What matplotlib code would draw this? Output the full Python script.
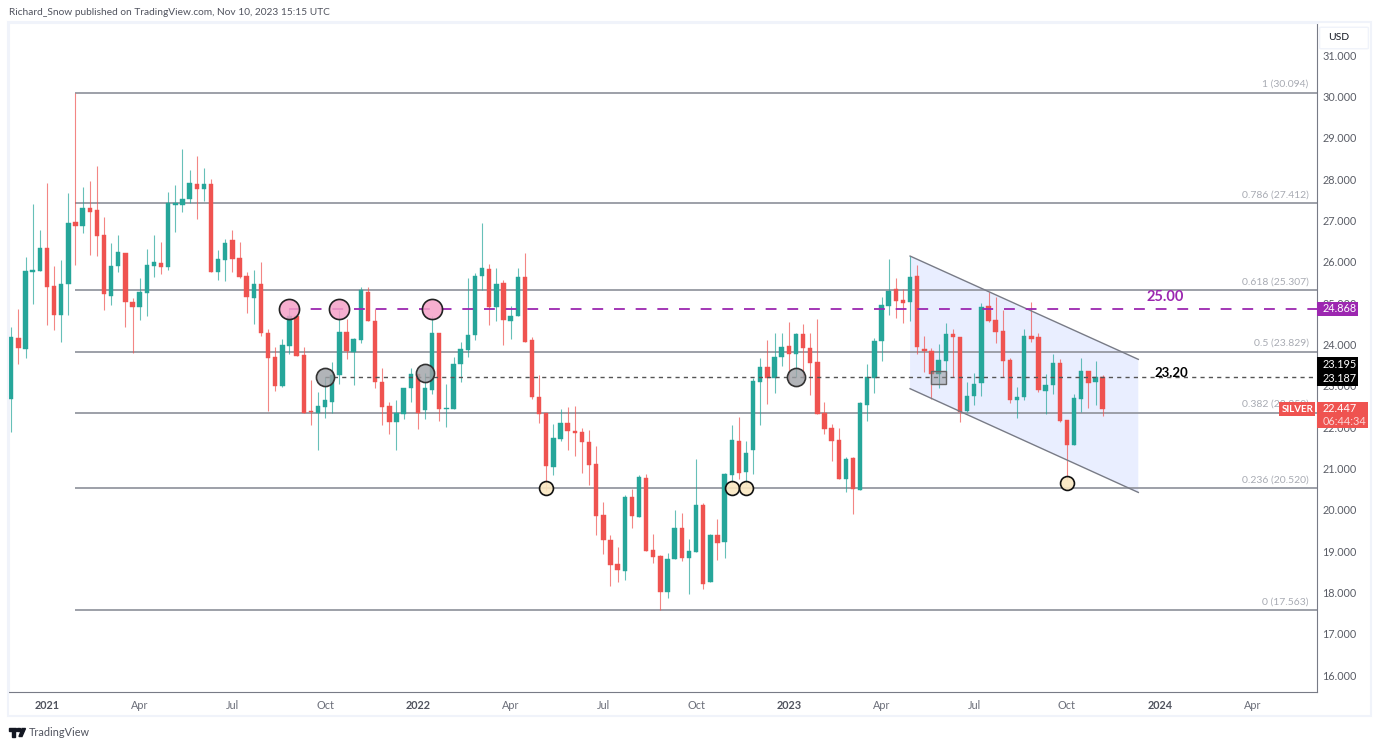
import numpy as np
import matplotlib.pyplot as plt
from matplotlib.patches import Rectangle, FancyBboxPatch, Polygon

plt.rcParams['font.family'] = ['Lato', 'DejaVu Sans']

# weekly candles, bar 5 = first week of Jan 2021
opens = [22.67, 24.16, 23.90, 25.76, 25.79, 26.34, 25.42, 24.71, 25.46, 26.96, 26.87, 27.30, 27.25,
         26.64, 25.18, 25.89, 26.22, 25.04, 24.91, 25.25, 25.91, 25.97, 25.88, 27.38, 27.37, 27.51,
         27.88, 27.76, 27.88, 25.76, 26.05, 26.53, 26.09, 25.66, 25.12, 25.46, 24.29, 23.70, 23.00,
         23.97, 24.69, 23.75, 22.38, 22.35, 22.48, 22.61, 23.26, 24.30, 23.83, 24.12, 25.27, 24.57,
         23.10, 22.51, 22.12, 22.31, 22.94, 23.28, 22.41, 22.91, 24.27, 22.44, 22.45, 23.52, 23.86,
         24.24, 25.65, 25.82, 24.90, 25.48, 24.57, 24.69, 25.63, 24.10, 22.74, 22.34, 21.04, 21.71,
         22.10, 21.91, 21.87, 21.64, 21.10, 19.87, 19.28, 18.69, 18.52, 20.31, 19.83, 20.77, 19.02,
         18.88, 18.01, 18.80, 19.57, 18.83, 18.97, 20.12, 18.24, 19.39, 19.22, 20.83, 21.66, 20.91,
         21.45, 23.08, 23.46, 23.20, 23.70, 23.96, 23.77, 24.25, 23.92, 23.58, 22.34, 21.98, 21.69,
         20.74, 21.25, 20.49, 22.54, 23.20, 24.09, 24.94, 25.34, 25.07, 25.02, 25.66, 23.89, 23.84,
         23.29, 23.60, 24.26, 24.18, 22.38, 22.76, 23.06, 24.93, 24.59, 24.33, 23.63, 22.66, 22.73,
         24.20, 24.18, 22.88, 23.01, 23.55, 22.17, 21.57, 22.69, 23.37, 23.08, 23.21]
highs = [24.42, 24.87, 26.12, 27.40, 26.77, 27.92, 25.89, 26.04, 27.66, 30.09, 27.80, 27.95, 28.32,
         27.08, 26.45, 26.64, 26.22, 25.12, 25.62, 26.30, 26.64, 26.47, 27.68, 27.86, 28.74, 28.22,
         28.55, 28.28, 28.00, 26.29, 26.55, 26.77, 26.47, 25.76, 25.80, 26.00, 24.37, 23.95, 24.13,
         24.88, 24.69, 23.95, 23.14, 22.85, 23.22, 23.58, 24.84, 24.61, 24.15, 25.38, 25.38, 24.85,
         23.42, 22.60, 22.65, 22.95, 23.42, 23.28, 23.30, 24.69, 24.27, 23.04, 23.69, 24.07, 25.60,
         25.73, 26.94, 25.94, 25.84, 25.57, 24.92, 25.86, 26.22, 24.17, 23.26, 22.34, 22.07, 22.43,
         22.48, 22.52, 21.99, 21.93, 21.54, 20.19, 19.39, 19.09, 20.35, 20.51, 20.83, 20.86, 19.41,
         18.90, 18.95, 20.00, 19.92, 19.29, 21.23, 20.16, 19.41, 19.78, 20.88, 22.05, 22.24, 21.66,
         23.18, 23.68, 24.12, 24.28, 24.28, 24.54, 24.28, 24.50, 24.28, 24.62, 22.61, 22.07, 21.97,
         21.28, 21.28, 22.61, 23.52, 24.15, 25.14, 26.07, 25.60, 25.34, 26.14, 25.92, 24.21, 23.91,
         24.01, 24.51, 24.38, 24.18, 23.09, 23.30, 25.01, 25.28, 25.14, 24.84, 23.68, 22.98, 24.38,
         25.03, 24.29, 23.29, 23.76, 23.64, 22.18, 22.81, 23.68, 23.37, 23.60, 23.25]
lows = [21.89, 23.52, 23.67, 24.98, 25.79, 24.47, 24.35, 24.07, 24.71, 25.92, 26.71, 26.16, 26.14,
        24.84, 24.96, 25.76, 24.42, 23.79, 24.59, 24.69, 25.64, 25.71, 25.80, 26.72, 27.21, 27.42,
        27.04, 27.48, 25.76, 25.56, 25.54, 25.76, 25.60, 24.77, 24.50, 24.21, 22.39, 22.88, 22.98,
        23.77, 23.73, 22.35, 22.05, 21.45, 22.23, 22.35, 23.05, 23.65, 23.02, 24.04, 24.56, 22.94,
        22.04, 21.84, 21.44, 22.19, 22.60, 21.96, 22.20, 22.81, 22.16, 22.00, 22.45, 23.08, 23.70,
        24.10, 25.31, 24.47, 24.57, 23.98, 24.14, 24.69, 24.06, 22.69, 22.10, 20.45, 20.85, 21.67,
        21.44, 21.29, 20.89, 20.60, 19.40, 18.92, 18.15, 18.25, 18.31, 19.56, 19.83, 19.01, 18.72,
        17.57, 17.87, 18.80, 18.77, 17.96, 18.97, 18.09, 18.24, 18.79, 18.84, 20.64, 20.74, 20.60,
        20.87, 22.04, 22.57, 22.82, 23.49, 23.12, 23.21, 23.18, 22.77, 22.31, 21.84, 21.19, 20.74,
        20.44, 19.90, 20.49, 22.16, 22.82, 23.59, 24.72, 24.65, 24.51, 24.57, 23.76, 23.34, 22.69,
        22.94, 23.22, 23.22, 22.13, 22.37, 22.54, 22.76, 24.54, 24.04, 23.22, 22.59, 22.23, 22.66,
        24.07, 22.86, 22.31, 22.81, 22.13, 20.71, 21.57, 22.37, 22.47, 22.54, 22.28]
closes = [24.18, 23.92, 25.78, 25.80, 26.33, 25.40, 24.71, 25.47, 26.93, 26.87, 27.30, 27.21, 26.63,
          25.23, 25.91, 26.24, 25.02, 24.91, 25.27, 25.92, 26.00, 25.88, 27.42, 27.42, 27.53, 27.91,
          27.76, 27.88, 25.76, 26.07, 26.45, 26.07, 25.63, 25.14, 25.46, 24.29, 23.68, 23.00, 23.99,
          24.69, 23.73, 22.35, 22.37, 22.50, 22.66, 23.26, 24.30, 23.85, 24.14, 25.31, 24.57, 23.08,
          22.49, 22.12, 22.34, 22.95, 23.28, 22.34, 22.94, 24.27, 22.44, 22.47, 23.53, 23.89, 24.24,
          25.65, 25.85, 24.90, 25.47, 24.59, 24.70, 25.63, 24.07, 22.73, 22.31, 21.06, 21.73, 22.10,
          21.90, 21.86, 21.64, 21.08, 19.85, 19.27, 18.67, 18.54, 20.31, 19.85, 20.79, 19.01, 18.85,
          18.01, 18.81, 19.56, 18.83, 19.00, 20.11, 18.21, 19.40, 19.20, 20.86, 21.69, 20.90, 21.37,
          23.12, 23.46, 23.20, 23.70, 23.93, 23.77, 24.25, 23.92, 23.56, 22.31, 21.96, 21.66, 20.74,
          21.23, 20.51, 22.58, 23.22, 24.09, 24.95, 25.30, 25.06, 25.01, 25.63, 23.94, 23.84, 23.29,
          23.62, 24.26, 24.17, 22.37, 22.76, 23.05, 24.91, 24.56, 24.31, 23.61, 22.66, 22.73, 24.21,
          24.13, 22.90, 23.02, 23.55, 22.15, 21.57, 22.71, 23.35, 23.06, 23.21, 22.447]

# fibonacci levels
fib_ratios = ['1', '0.786', '0.618', '0.5', '0.382', '0.236', '0']
fib_prices = [30.094, 27.412, 25.307, 23.829, 22.350, 20.520, 17.563]
fib_start = 9

y_ticks = list(range(16, 32))
x_ticks = [5, 18, 31, 44, 57, 70, 83, 96, 109, 122, 135, 148, 161, 174]
x_labels = ['2021', 'Apr', 'Jul', 'Oct', '2022', 'Apr', 'Jul', 'Oct', '2023', 'Apr', 'Jul', 'Oct', '2024', 'Apr']

# channel corners (bar, price)
channel_x = [126, 158, 158, 126]
channel_y = [26.14, 23.64, 20.42, 22.93]

# circled points
pink_x, pink_y = [39, 46, 59], [24.87, 24.87, 24.87]
grey_x, grey_y = [44, 58, 110], [23.21, 23.30, 23.21]
cream_x, cream_y = [75, 101, 103, 148], [20.52, 20.52, 20.52, 20.65]

GREEN = '#26a69a'
RED = '#ef5350'
PURPLE = '#9c27b0'
GREY = '#9598a1'
W, H = 1380, 747


def fx(x):
    return x / W


def fy(y):
    return 1 - y / H


fig = plt.figure(figsize=(W / 100, H / 100), dpi=100, facecolor='white')
ax = fig.add_axes([fx(9), fy(692), (1317 - 9) / W, (692 - 23) / H])
ax.set_xlim(-0.32, 183.05)
ax.set_ylim(15.59, 31.78)

# candles
x = np.arange(len(opens))
o, h, l, c = map(np.array, (opens, highs, lows, closes))
colors = np.where(c >= o, GREEN, RED)
ax.vlines(x, l, h, colors=colors, lw=0.8, alpha=0.7, zorder=3)
ax.bar(x, np.abs(c - o), bottom=np.minimum(o, c), width=0.62, color=colors,
       edgecolor=colors, lw=0.3, zorder=4)

# fib lines and labels
for ratio, price in zip(fib_ratios, fib_prices):
    ax.hlines(price, fib_start, 183.05, color=GREY, lw=1.3, zorder=2)
    ax.annotate(f'{ratio} ({price:.3f})', xy=(1, price), xycoords=ax.get_yaxis_transform(),
                xytext=(-6, 3), textcoords='offset points', ha='right', va='bottom',
                fontsize=7.5, color='#a8abb3')

# channel
ax.fill(channel_x, channel_y, color='#2962ff', alpha=0.1, lw=0, zorder=1)
ax.plot(channel_x[:2], channel_y[:2], color='#787b86', lw=1, zorder=5)
ax.plot(channel_x[2:], channel_y[2:], color='#787b86', lw=1, zorder=5)

# horizontal levels
ax.hlines(24.868, 39, 183.05, color=PURPLE, lw=1.3, linestyles=(0, (6, 6)), zorder=5)
ax.hlines(23.21, 44, 183.05, color='#555555', lw=1, linestyles=(0, (3, 3)), zorder=5)
ax.text(159.2, 24.97, '25.00', color=PURPLE, fontsize=10.5, fontweight='bold', va='bottom', zorder=6)
ax.text(160.3, 23.17, '23.20', color='black', fontsize=9.5, fontweight='bold', va='bottom', zorder=6)

# markers
ax.scatter(pink_x, pink_y, s=210, facecolor=(0.96, 0.63, 0.78, 0.85), edgecolor='#222222', lw=1.2, zorder=6)
ax.scatter(grey_x, grey_y, s=170, facecolor=(0.62, 0.63, 0.65, 0.8), edgecolor='#333333', lw=1.2, zorder=6)
ax.scatter(cream_x, cream_y, s=100, facecolor=(0.98, 0.91, 0.76, 0.9), edgecolor='#111111', lw=1.2, zorder=6)
ax.add_patch(Rectangle((128.9, 23.05), 2.2, 0.32, facecolor=(0.55, 0.56, 0.58, 0.5),
                       edgecolor='#666666', lw=1, zorder=6))

# axes look
for side in ('left', 'top'):
    ax.spines[side].set_color('#f0f3fa')
ax.spines['right'].set_color('#787b86')
ax.spines['bottom'].set_color('#787b86')
ax.yaxis.tick_right()
ax.set_yticks(y_ticks)
ax.set_yticklabels([f'{t:.3f}' for t in y_ticks])
ax.set_xticks(x_ticks)
ax.set_xticklabels(x_labels)
ax.tick_params(axis='y', length=0, pad=4, labelsize=7.8, labelcolor='#5a5d66')
ax.tick_params(axis='x', length=0, pad=6, labelsize=7.8, labelcolor='#6a6d78')
for tick in ax.get_xticklabels():
    if tick.get_text().isdigit():
        tick.set_fontweight('bold')
        tick.set_color('#50535e')

# outer frame
fig.add_artist(Rectangle((fx(8), fy(716)), (1371 - 8) / W, (716 - 22) / H, fill=False,
                         edgecolor='#f0f3fa', lw=1.5, transform=fig.transFigure, zorder=1))


def tag(x0, x1, y0, y1, color):
    fig.add_artist(Rectangle((fx(x0), fy(y1)), (x1 - x0) / W, (y1 - y0) / H, facecolor=color,
                             edgecolor='none', transform=fig.transFigure, zorder=5))


def label(x, y, s, color='white', size=7.8, **kw):
    fig.text(fx(x), fy(y), s, color=color, fontsize=size, va='center', zorder=6, **kw)


# price tags on the axis
tag(1317, 1358, 302, 316, PURPLE)
label(1323, 309, '24.868')
tag(1317, 1358, 357, 386, 'black')
label(1323, 364.5, '23.195')
label(1323, 379, '23.187')
tag(1317, 1368, 402, 428, RED)
label(1323, 409, '22.447')
label(1323, 421.5, '06:44:34', color='#fbd5d5')
tag(1279, 1315, 402, 416, RED)
label(1282, 409, 'SILVER', size=7, fontweight='bold')

# USD box
fig.add_artist(FancyBboxPatch((fx(1321), fy(48)), 46 / W, 20 / H, boxstyle='round,pad=0.001',
                              facecolor='white', edgecolor='#f0f3fa', lw=1, transform=fig.transFigure, zorder=5))
label(1328, 38, 'USD', color='#131722', size=7.5)

# header and footer
label(9, 12.5, 'Richard_Snow published on TradingView.com, Nov 10, 2023 15:15 UTC', color='#50535e', size=7.3)
label(29, 732, 'TradingView', color='#50535e', size=7.8)
fig.add_artist(Rectangle((fx(9), fy(730.5)), 7 / W, 3 / H, color='#131722', transform=fig.transFigure, zorder=5))
fig.add_artist(Rectangle((fx(12), fy(736.5)), 3 / W, 8 / H, color='#131722', transform=fig.transFigure, zorder=5))
fig.add_artist(Polygon([(fx(19), fy(736.5)), (fx(22), fy(736.5)), (fx(25.5), fy(728.5)), (fx(22), fy(728.5))],
                       color='#131722', transform=fig.transFigure, zorder=5))
fig.add_artist(Rectangle((fx(17), fy(730.5)), 2.5 / W, 3 / H, color='#131722', transform=fig.transFigure, zorder=5))

fig.savefig('out.png', dpi=100)
